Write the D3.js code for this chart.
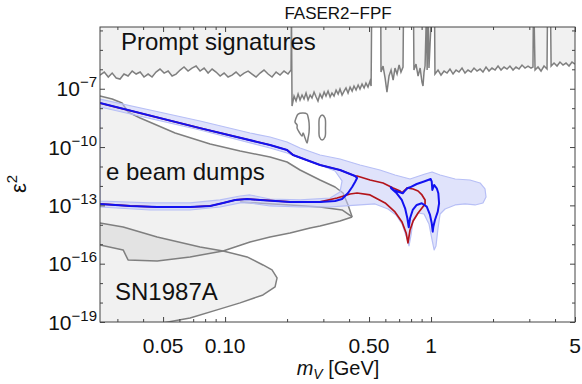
<!DOCTYPE html>
<html><head><meta charset="utf-8">
<script src="https://cdn.jsdelivr.net/npm/d3@7"></script>
<style>body{margin:0;background:#fff} svg{display:block} text{font-family:"Liberation Sans",Arial,sans-serif;fill:#111}</style>
</head><body><svg id="c" width="582" height="384"></svg>
<script>
// ---- data (mass in GeV, epsilon^2) ----
const xMajor = [0.05, 0.1, 0.5, 1, 5];
const xMajorLabels = ["0.05", "0.10", "0.50", "1", "5"];
const xMinor = [0.03,0.04,0.06,0.07,0.08,0.09,0.2,0.3,0.4,0.6,0.7,0.8,0.9,2,3,4];
const yMajor = [1e-19, 1e-16, 1e-13, 1e-10, 1e-7];
const yMajorExp = ["\u221219", "\u221216", "\u221213", "\u221210", "\u22127"];
const yMinor = [1e-18,1e-17,1e-15,1e-14,1e-12,1e-11,1e-9,1e-8,1e-6,1e-5,1e-4];
const TOP = 1e-3; // points drawn to the top edge of the frame

const promptLower = [
[0.0247,5.06e-7],[0.0259,7.22e-7],[0.0271,4.0e-7],[0.0283,6.41e-7],[0.0296,3.55e-7],[0.0309,3.15e-7],[0.0323,5.7e-7],[0.0338,4.5e-7],[0.0354,8.13e-7],[0.0370,5.7e-7],[0.0387,7.22e-7],[0.0404,4.0e-7],[0.0423,5.7e-7],[0.0442,4.0e-7],[0.0462,7.22e-7],[0.0483,1.03e-6],[0.0506,6.41e-7],[0.0529,8.13e-7],[0.0553,4.5e-7],[0.0578,5.7e-7],[0.0605,9.15e-7],[0.0632,1.31e-6],[0.0661,8.13e-7],[0.0691,1.16e-6],[0.0723,1.47e-6],[0.0756,8.13e-7],[0.0791,1.16e-6],[0.0827,6.41e-7],[0.0865,1.03e-6],[0.0904,7.22e-7],[0.0946,4.5e-7],[0.0989,6.41e-7],[0.1034,4.0e-7],[0.1081,5.06e-7],[0.1130,7.22e-7],[0.1183,4.5e-7],[0.1237,6.41e-7],[0.1294,8.13e-7],[0.1352,5.7e-7],[0.1414,4.0e-7],[0.1479,6.41e-7],[0.1545,9.15e-7],[0.1617,5.7e-7],[0.1690,4.0e-7],[0.1769,7.22e-7],[0.1849,5.06e-7],[0.1933,8.13e-7],[0.2021,5.7e-7],[0.2091,9.15e-7],
[0.2100,TOP],
[0.2114,1.29e-8],[0.2162,4.21e-8],[0.2211,2.33e-8],[0.2262,5.34e-8],[0.2312,2.62e-8],[0.2364,4.74e-8],[0.2417,2.95e-8],[0.2472,6.01e-8],[0.2529,2.62e-8],[0.2588,4.74e-8],[0.2643,3.33e-8],[0.2704,6.76e-8],[0.2767,3.74e-8],[0.2825,2.33e-8],[0.2891,5.34e-8],[0.2958,3.33e-8],[0.3027,6.76e-8],[0.3090,4.21e-8],[0.3162,7.62e-8],[0.3236,3.74e-8],[0.3304,6.01e-8],[0.3381,4.21e-8],[0.3459,8.57e-8],[0.3540,5.34e-8],[0.3614,9.66e-8],[0.3698,4.74e-8],[0.3784,7.62e-8],[0.3864,1.09e-7],[0.3954,6.01e-8],[0.4046,1.22e-7],[0.4140,7.62e-8],[0.4227,1.38e-7],[0.4325,8.57e-8],[0.4426,1.55e-7],[0.4519,9.66e-8],[0.4624,1.74e-7],[0.4732,1.09e-7],[0.4831,1.96e-7],[0.4943,1.22e-7],[0.5058,2.49e-7],[0.5117,1.38e-7],
[0.5150,TOP],[0.5700,TOP],
[0.5715,7.22e-7],[0.5848,1.47e-6],[0.5984,3.55e-7],[0.6109,6.76e-8],[0.6252,4.5e-7],[0.6397,9.15e-7],[0.6546,2.8e-7],[0.6683,1.16e-6],[0.6839,5.7e-7],[0.6998,1.66e-6],[0.7145,7.22e-7],[0.7311,1.31e-6],
[0.7350,TOP],[0.8220,TOP],
[0.8260,9.15e-7],[0.8453,1.86e-6],[0.8650,4.5e-7],[0.8851,1.16e-6],[0.9036,2.21e-7],[0.9141,1.38e-7],[0.9247,7.22e-7],[0.9354,1.47e-6],[0.9500,TOP],[0.9572,9.15e-7],[0.9680,TOP],[0.9772,1.16e-6],[1.006,TOP],[1.040,TOP],
[1.0447,5.7e-7],[1.0814,9.15e-7],[1.118,5.06e-7],[1.157,8.13e-7],[1.196,6.41e-7],[1.236,1.03e-6],[1.279,5.7e-7],[1.323,9.15e-7],[1.367,7.22e-7],[1.414,1.16e-6],[1.462,6.41e-7],[1.512,9.15e-7],[1.564,7.22e-7],[1.617,1.16e-6],[1.672,8.13e-7],[1.730,1.03e-6],[1.787,7.22e-7],[1.849,1.31e-6],[1.912,8.13e-7],[1.977,1.16e-6],[2.046,9.15e-7],[2.115,1.47e-6],[2.187,9.15e-7],[2.262,1.31e-6],[2.339,1.03e-6],[2.416,1.47e-6],[2.501,9.15e-7],[2.586,1.31e-6],[2.674,1.03e-6],[2.765,1.66e-6],[2.860,1.16e-6],[2.957,1.47e-6],[3.058,1.16e-6],[3.126,1.31e-6],
[3.140,TOP],[3.160,TOP],[3.199,9.15e-7],[3.307,1.31e-6],[3.420,8.13e-7],[3.536,1.47e-6],[3.657,1.03e-6],[3.677,TOP],[3.803,TOP],[3.828,1.47e-6],[3.955,2.1e-6],[4.090,1.47e-6],[4.227,2.36e-6],[4.373,1.66e-6],[4.522,2.1e-6],[4.677,1.47e-6],[4.836,2.36e-6],[5.0,1.86e-6]
];

const promptBlob = [[0.2211,3.12e-9],[0.2262,5.0e-9],[0.2392,5.64e-9],[0.2500,5.0e-9],[0.2529,3.51e-9],[0.2558,1.73e-9],[0.2558,5.94e-10],[0.2529,2.92e-10],[0.2500,1.61e-10],[0.2445,2.92e-10],[0.2392,5.27e-10],[0.2364,3.70e-10],[0.2287,5.94e-10],[0.2237,9.4e-10],[0.2237,1.36e-9],[0.2186,1.94e-9]];
const promptOval = [[0.2958,4.45e-9],[0.3055,3.12e-9],[0.3072,9.4e-10],[0.3055,3.29e-10],[0.2958,2.30e-10],[0.2874,3.29e-10],[0.2858,9.4e-10],[0.2874,3.12e-9]];

const eBeamUpper = [[0.0247,4.21e-8],[0.0283,2.95e-8],[0.0316,1.84e-8],[0.0338,6.34e-9],[0.0387,3.12e-9],[0.0572,5.27e-10],[0.0846,1.43e-10],[0.1183,6.27e-11],[0.1653,3.08e-11],[0.1999,1.70e-11],[0.2312,6.6e-12],[0.2891,2.02e-12],[0.3420,8.83e-13],[0.3741,4.34e-13],[0.3954,1.05e-13],[0.4140,2.53e-14]];
const eBeamLower = [[0.4140,2.53e-14],[0.3614,1.57e-14],[0.2891,8.7e-15],[0.2588,6.88e-15],[0.2068,3.81e-15],[0.1653,2.37e-15],[0.1322,1.31e-15],[0.0978,4.52e-16],[0.0676,2.22e-16],[0.0468,1.38e-16],[0.0338,1.56e-16],[0.0320,5.09e-16],[0.0247,9.2e-16]];
const eBeamInner = [[0.1183,1.50e-13],[0.1429,1.33e-13],[0.2068,1.05e-13],[0.2891,8.26e-14],[0.3698,5.79e-14],[0.4140,2.53e-14]];

const sn1987a = [[0.0247,1.24e-14],[0.0320,7.74e-15],[0.0468,2.37e-15],[0.0756,7.26e-16],[0.0978,4.52e-16],[0.1279,2.22e-16],[0.1528,8.6e-17],[0.1690,4.77e-17],[0.1788,1.85e-17],[0.1749,6.37e-18],[0.1528,2.47e-18],[0.1183,9.6e-19],[0.0914,4.19e-19],[0.0676,1.62e-19],[0.0500,9.0e-20],[0.0387,4.98e-20]];

const fpfUpper = [[0.0247,1.84e-8],[0.0756,9.4e-10],[0.1653,1.27e-10],[0.1999,7.05e-11],[0.2138,3.90e-11],[0.2891,1.19e-11],[0.3614,6.6e-12],[0.4276,3.25e-12]];
const fpfBlueTip = [[0.4375,2.56e-12],[0.4276,1.60e-12],[0.4140,8.83e-13],[0.3954,4.34e-13],[0.3698,2.13e-13],[0.3420,1.68e-13]];
const fpfRedLoop = [[0.4375,3.25e-12],[0.5058,2.02e-12],[0.5848,1.42e-12],[0.6546,7.85e-13],[0.7079,5.5e-13],[0.7228,4.34e-13],[0.7482,6.19e-13],[0.7638,7.85e-13],[0.8185,6.97e-13],[0.8650,5.5e-13],[0.9036,3.43e-13],[0.9354,1.90e-13],[0.9354,1.18e-13],[0.9036,7.35e-14],[0.8650,4.06e-14],[0.8185,1.57e-14],[0.7907,5.43e-15],[0.7727,1.17e-15],[0.7568,3.81e-15],[0.7228,1.40e-14],[0.6683,4.57e-14],[0.5984,1.33e-13],[0.5058,3.43e-13],[0.4375,4.34e-13],[0.4046,3.86e-13],[0.3499,2.40e-13]];
const fpfLower = [[0.2891,1.50e-13],[0.2068,1.50e-13],[0.1479,1.90e-13],[0.1279,2.13e-13],[0.1119,1.90e-13],[0.0978,1.33e-13],[0.0846,9.31e-14],[0.0676,8.26e-14],[0.0468,8.26e-14],[0.0346,9.31e-14],[0.0247,1.18e-13]];
const fpfBlueW = [[0.6373,8.53e-13],[0.6561,6.19e-13],[0.6938,5.06e-13],[0.7289,4.19e-13],[0.7482,5.70e-13],[0.7674,7.57e-13],[0.7907,8.53e-13],[0.8523,1.26e-12],[0.9174,1.65e-12],[0.9966,2.27e-12],[1.0079,1.65e-12],[1.0146,6.19e-13],[1.0351,1.12e-12],[1.066,7.57e-13],[1.085,4.19e-13],[1.094,1.28e-13],[1.078,4.74e-14],[1.0447,1.77e-14],[1.026,8.04e-15],[1.0192,4.45e-15],[1.0079,1.20e-14],[0.9886,3.21e-14],[0.9530,8.58e-14],[0.9014,1.28e-13],[0.8523,1.05e-13],[0.8150,5.79e-14],[0.7907,2.17e-14],[0.7794,7.48e-15],[0.7674,2.17e-14],[0.7482,7.10e-14],[0.7208,1.90e-13],[0.6814,4.19e-13],[0.6397,7.57e-13]];

const bandOuter = [[0.0247,2.95e-8],[0.0432,8.03e-9],[0.0756,2.18e-9],[0.1322,5.27e-10],[0.1653,3.29e-10],[0.1999,1.82e-10],[0.2312,8.94e-11],[0.2891,3.90e-11],[0.3614,2.43e-11],[0.4519,1.19e-11],[0.5649,6.6e-12],[0.6683,3.66e-12],[0.7907,2.27e-12],[0.9354,4.11e-12],[1.0116,5.21e-12],[1.1066,3.66e-12],[1.3092,2.27e-12],[1.5453,2.02e-12],[1.7298,1.42e-12],[1.8281,6.97e-13],[1.8493,2.70e-13],[1.7865,1.33e-13],[1.6368,1.05e-13],[1.4622,1.18e-13],[1.3092,1.05e-13],[1.1695,6.53e-14],[1.1066,3.61e-14],[1.0814,6.88e-15],[1.0568,8.18e-16],[1.0351,5.09e-16],[1.0116,1.66e-15],[0.9772,1.11e-14],[0.9247,3.61e-14],[0.8650,4.06e-14],[0.8185,1.77e-14],[0.7998,3.01e-15],[0.7816,8.18e-16],[0.7568,2.67e-15],[0.7228,1.11e-14],[0.6761,3.21e-14],[0.6182,6.53e-14],[0.5346,1.18e-13],[0.4519,1.05e-13],[0.3828,9.31e-14],[0.3236,8.26e-14],[0.2312,8.26e-14],[0.1653,9.31e-14],[0.1322,1.33e-13],[0.1183,1.33e-13],[0.0946,8.26e-14],[0.0676,5.79e-14],[0.0432,5.79e-14],[0.0247,8.26e-14]];
const bandInner = [[0.0247,1.15e-8],[0.0756,7.52e-10],[0.1653,8.94e-11],[0.1999,4.94e-11],[0.2312,2.74e-11],[0.2891,1.19e-11],[0.3420,5.87e-12],[0.3698,1.80e-12],[0.3614,4.89e-13],[0.3236,2.40e-13],[0.2312,1.90e-13],[0.1653,2.13e-13],[0.1322,3.43e-13],[0.1183,3.04e-13],[0.0946,1.90e-13],[0.0676,1.33e-13],[0.0432,1.33e-13],[0.0247,1.68e-13]];

// ---- layout ----
const L = 100, R = 575, T = 27, B = 322;
const svg = d3.select("#c");
const x = d3.scaleLog().domain([0.0247, 5]).range([L, R]);
const y = d3.scaleLog().domain([1e-19, 1.5e-4]).range([B, T]);

svg.append("defs").append("clipPath").attr("id","clip").append("rect")
  .attr("x",L).attr("y",T).attr("width",R-L).attr("height",B-T);
const plot = svg.append("g").attr("clip-path","url(#clip)");

const line = d3.line().x(d=>x(d[0])).y(d=>y(d[1]));
const lineClosed = d3.line().x(d=>x(d[0])).y(d=>y(d[1])).curve(d3.curveLinearClosed);
const smoothClosed = d3.line().x(d=>x(d[0])).y(d=>y(d[1])).curve(d3.curveCatmullRomClosed);

const regionFill = "rgba(0,0,0,0.055)", regionStroke = "#7f7f7f";

// prompt signatures
plot.append("path").datum(promptLower)
  .attr("d", d3.area().x(d=>x(d[0])).y0(y(TOP)).y1(d=>y(d[1])))
  .attr("fill", regionFill);
plot.append("path").datum(promptLower).attr("d", line)
  .attr("fill","none").attr("stroke",regionStroke).attr("stroke-width",1.5);
[promptBlob, promptOval].forEach(p => plot.append("path").datum(p).attr("d", smoothClosed)
  .attr("fill","none").attr("stroke",regionStroke).attr("stroke-width",1.5));

// e beam dumps, SN1987A
plot.append("path").datum(eBeamUpper.concat(eBeamLower)).attr("d", lineClosed).attr("fill", regionFill);
plot.append("path").datum(sn1987a.concat([[0.0247,4.98e-20]])).attr("d", lineClosed).attr("fill", regionFill);
[eBeamUpper, eBeamLower, eBeamInner, sn1987a].forEach(p => plot.append("path").datum(p).attr("d", line)
  .attr("fill","none").attr("stroke",regionStroke).attr("stroke-width",1.5).attr("stroke-linejoin","round"));

// FASER2 band
plot.append("path").attr("d", lineClosed(bandOuter) + lineClosed(bandInner))
  .attr("fill","#c6ccf8").attr("fill-opacity",0.55).attr("fill-rule","evenodd")
  .attr("stroke","#b7bff6").attr("stroke-width",1.2).attr("stroke-linejoin","round");

// FASER2 curves
plot.append("path").datum(fpfUpper.concat(fpfRedLoop, fpfLower)).attr("d", line)
  .attr("fill","none").attr("stroke","#b3141b").attr("stroke-width",1.7).attr("stroke-linejoin","round");
plot.append("path").datum(fpfUpper.concat(fpfBlueTip, fpfLower)).attr("d", line)
  .attr("fill","none").attr("stroke","#1212f0").attr("stroke-width",2).attr("stroke-linejoin","round");
plot.append("path").datum(fpfBlueW).attr("d", lineClosed)
  .attr("fill","none").attr("stroke","#1212f0").attr("stroke-width",2).attr("stroke-linejoin","round");

// ---- frame & ticks ----
const axCol = "#444";
function ticks(axisFn, scale, vals, size, tr){
  const g = svg.append("g").attr("transform", tr)
    .call(axisFn(scale).tickValues(vals).tickSize(-size).tickFormat(""));
  g.select(".domain").remove();
  g.selectAll("line").attr("stroke", axCol);
}
ticks(d3.axisBottom, x, xMajor, 5, `translate(0,${B})`);
ticks(d3.axisBottom, x, xMinor, 3, `translate(0,${B})`);
ticks(d3.axisTop, x, xMajor, 5, `translate(0,${T})`);
ticks(d3.axisTop, x, xMinor, 3, `translate(0,${T})`);
ticks(d3.axisLeft, y, yMajor, 5, `translate(${L},0)`);
ticks(d3.axisLeft, y, yMinor, 3, `translate(${L},0)`);
ticks(d3.axisRight, y, yMajor, 5, `translate(${R},0)`);
ticks(d3.axisRight, y, yMinor, 3, `translate(${R},0)`);
svg.append("rect").attr("x",L).attr("y",T).attr("width",R-L).attr("height",B-T)
  .attr("fill","none").attr("stroke",axCol).attr("stroke-width",1);

// tick labels
xMajor.forEach((v,i)=> svg.append("text").attr("x",x(v)).attr("y",353)
  .attr("text-anchor","middle").style("font-size","21px").text(xMajorLabels[i]));
yMajor.forEach((v,i)=>{
  const t = svg.append("text").attr("x",97).attr("y",y(v)+7.5).attr("text-anchor","end").style("font-size","21px");
  t.append("tspan").text("10");
  t.append("tspan").attr("dy",-9).style("font-size","15px").text(yMajorExp[i]);
});

// axis labels & title
svg.append("text").attr("x",338).attr("y",19).attr("text-anchor","middle").style("font-size","17px").text("FASER2\u2212FPF");
const xl = svg.append("text").attr("x",338).attr("y",375).attr("text-anchor","middle").style("font-size","20px");
xl.append("tspan").style("font-style","italic").text("m");
xl.append("tspan").attr("dy",4).style("font-size","14px").style("font-style","italic").text("V");
xl.append("tspan").attr("dy",-4).text(" [GeV]");
const yl = svg.append("text").attr("transform","translate(26,184) rotate(-90)").attr("text-anchor","middle").style("font-size","22px");
yl.append("tspan").text("\u03b5");
yl.append("tspan").attr("dy",-9).style("font-size","15px").text("2");

// region labels
svg.append("text").attr("x",121).attr("y",50).style("font-size","24px").text("Prompt signatures");
svg.append("text").attr("x",106).attr("y",180).style("font-size","24px").text("e beam dumps");
svg.append("text").attr("x",115).attr("y",300).style("font-size","24px").text("SN1987A");
</script></body></html>
